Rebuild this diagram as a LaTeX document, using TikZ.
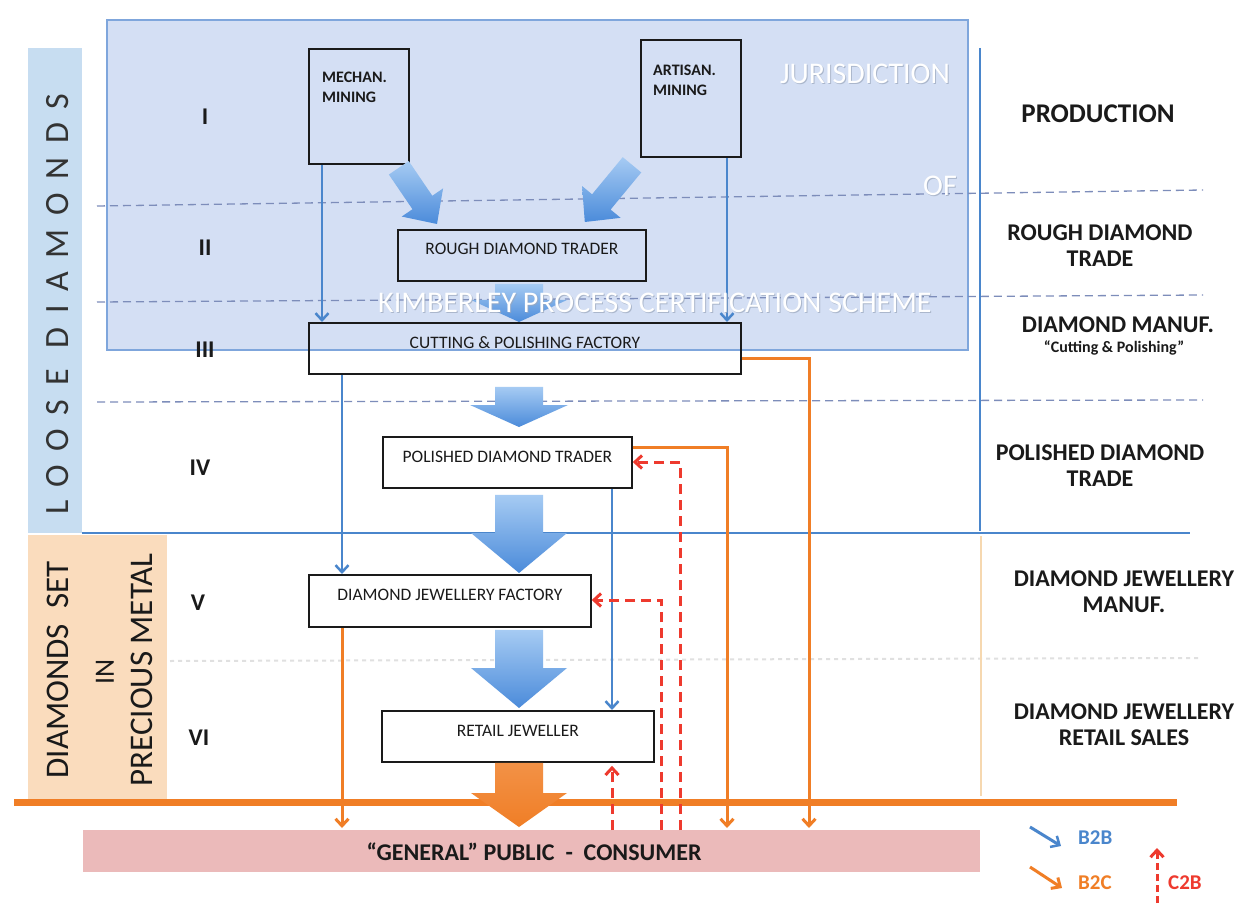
\documentclass[tikz,border=0pt]{standalone}
\usepackage{fontspec}
\setmainfont{Carlito}
\usetikzlibrary{arrows.meta,calc}
\definecolor{kpblue}{HTML}{D4DFF4}
\definecolor{kpedge}{HTML}{7FA6DC}
\definecolor{looseband}{HTML}{C7DDF1}
\definecolor{setband}{HTML}{FADCBD}
\definecolor{pubpink}{HTML}{EBBABA}
\definecolor{btob}{HTML}{4A86CC}
\definecolor{btoc}{HTML}{F07E26}
\definecolor{ctob}{HTML}{EE3A2E}
\definecolor{dashc}{HTML}{7D8DBA}
\definecolor{ink}{HTML}{1A1A1A}
\definecolor{arrlight}{HTML}{A6CBF3}
\definecolor{arrdark}{HTML}{4B8BDA}
\definecolor{orfaint}{HTML}{F6D8B0}
\definecolor{wmshadow}{HTML}{9AA7BC}

\newcommand{\fatarrow}[6]{%
  \coordinate (fabase) at ($(#2)!#5!(#1)$);
  \path[#6] ($(#1)!#3!90:(#2)$) -- ($(fabase)!#3!90:(#2)$) -- ($(fabase)!#4!90:(#2)$)
    -- (#2) -- ($(fabase)!#4!-90:(#2)$) -- ($(fabase)!#3!-90:(#2)$) -- ($(#1)!#3!-90:(#2)$) -- cycle;
}

\tikzset{
  stagebox/.style={draw=ink, line width=1.8pt, inner sep=0pt, anchor=north west},
  boxtext/.style={font=\fontsize{17.5}{20}\selectfont, text=ink, anchor=base, inner sep=0pt},
  minetext/.style={font=\bfseries\fontsize{16}{20}\selectfont, text=ink, anchor=north west, align=left, inner sep=0pt},
  roman/.style={font=\bfseries\fontsize{24}{26}\selectfont, text=ink, inner sep=0pt},
  stagelabel/.style={font=\bfseries\fontsize{24}{26}\selectfont, text=ink, align=center, inner sep=0pt},
  b2b/.style={draw=btob, line width=2.5pt, -{Straight Barb[length=7pt,width=13pt,line width=2.5pt]}},
  b2c/.style={draw=btoc, line width=3pt, -{Straight Barb[length=7pt,width=13pt,line width=3pt]}},
  c2b/.style={draw=ctob, line width=3pt, dash pattern=on 10pt off 6pt, -{Straight Barb[length=7pt,width=13pt,line width=3pt]}},
  stagedash/.style={draw=dashc, line width=1.3pt, dash pattern=on 8pt off 5pt},
  faintdot/.style={draw=black!12, line width=2pt, dash pattern=on 4pt off 4pt},
  bluefat/.style={top color=arrlight, bottom color=arrdark},
  orangefat/.style={top color=btoc!85!white, bottom color=btoc},
  wm/.style={font=\fontsize{30}{30}\selectfont, text=white, inner sep=0pt},
  wms/.style={font=\fontsize{30}{30}\selectfont, text=wmshadow, opacity=0.7, inner sep=0pt},
  legendtext/.style={font=\bfseries\fontsize{21}{22}\selectfont, anchor=west, inner sep=0pt}
}

\begin{document}
\begin{tikzpicture}[x=1pt,y=-1pt]
\useasboundingbox (0,0) rectangle (1242,909);
\fill[white] (0,0) rectangle (1242,909);

% bands and regions
\fill[looseband] (28,48) rectangle (82,533);
\fill[setband] (28,535) rectangle (167,800);
\draw[kpedge, fill=kpblue, line width=1.3pt] (107,20) rectangle (968,350);

% stage separators
\draw[stagedash] (97,206) -- (1203,190);
\draw[stagedash] (97,302) -- (1203,295);
\draw[stagedash] (97,402) -- (1203,400);
\draw[faintdot] (170,661) -- (1200,658);
\draw[btob, line width=1.5pt] (82,533) -- (1190,533);
\draw[btob, line width=2.5pt] (980,48) -- (980,531);
\draw[orfaint, line width=1.8pt] (981,536) -- (981,796);

% public band
\node[fill=pubpink, minimum width=897pt, minimum height=42pt, anchor=north west, inner sep=0pt] (pub) at (83,830) {};
\node[font=\bfseries\fontsize{24}{26}\selectfont, text=ink, inner sep=0pt] (pubT) at (534,852) {“GENERAL” PUBLIC\ \ -\ \ CONSUMER};

% side band texts
\node[rotate=90, font=\fontsize{34}{36}\selectfont\addfontfeature{LetterSpace=40}, text=black!80, inner sep=0pt] (loose) at (58,304) {LOOSE DIAMONDS};
\node[rotate=90, font=\fontsize{33}{36}\selectfont, text=ink, inner sep=0pt] (dset) at (58,670) {DIAMONDS\ \ SET};
\node[rotate=90, font=\fontsize{28}{30}\selectfont, text=ink, inner sep=0pt] (din) at (105,672) {IN};
\node[rotate=90, font=\fontsize{33}{36}\selectfont, text=ink, inner sep=0pt] (dmet) at (142,670) {PRECIOUS METAL};

% boxes
\node[stagebox, minimum width=100pt, minimum height=115pt] (mech) at (308,48) {};
\node[stagebox, minimum width=100pt, minimum height=117pt] (art) at (640,39) {};
\node[stagebox, minimum width=248pt, minimum height=51pt] (rough) at (397,229) {};
\node[stagebox, minimum width=432pt, minimum height=51pt] (cut) at (308,322) {};
\node[stagebox, fill=white, minimum width=249pt, minimum height=51pt] (pol) at (382,436) {};
\node[stagebox, fill=white, minimum width=282pt, minimum height=52pt] (djf) at (308,574) {};
\node[stagebox, fill=white, minimum width=272pt, minimum height=51pt] (ret) at (381,710) {};

\node[minetext] (mechT) at ($(mech.north west)+(14,24)$) {MECHAN.\\MINING};
\node[minetext] (artT) at ($(art.north west)+(13,26)$) {ARTISAN.\\MINING};
\node[boxtext] (roughT) at ($(rough.north)+(0,26)$) {ROUGH DIAMOND TRADER};
\node[boxtext] (cutT) at ($(cut.north)+(0,26)$) {CUTTING \& POLISHING FACTORY};
\node[boxtext] (polT) at ($(pol.north)+(0,26)$) {POLISHED DIAMOND TRADER};
\node[boxtext] (djfT) at ($(djf.north)+(0,26)$) {DIAMOND JEWELLERY FACTORY};
\node[boxtext] (retT) at ($(ret.north)+(0,26)$) {RETAIL JEWELLER};

% column coordinates
\coordinate (ax) at (519,0);
\coordinate (xa) at (322,0);
\coordinate (xb) at (727,0);
\coordinate (xc) at (342,0);
\coordinate (xd) at (612,0);
\coordinate (xe) at (809,0);
\coordinate (xf) at (727,0);
\coordinate (xg) at (680,0);
\coordinate (xh) at (661,0);

% fat arrows
\coordinate (d1s) at ($(mech.south east)+(-11,3)$);
\coordinate (d1e) at ($(rough.north west)+(40,-5)$);
\fatarrow{d1s}{d1e}{12pt}{25pt}{26pt}{bluefat}
\coordinate (d2s) at ($(art.south west)+(-8,7)$);
\coordinate (d2e) at ($(rough.north east)+(-62,-7)$);
\fatarrow{d2s}{d2e}{12pt}{25pt}{26pt}{bluefat}
\coordinate (v1s) at ($(ax |- rough.south)+(0,2)$);
\coordinate (v1e) at ($(ax |- cut.north)+(0,0)$);
\fatarrow{v1s}{v1e}{24pt}{48pt}{22pt}{bluefat}
\coordinate (v2s) at ($(ax |- cut.south)+(0,12)$);
\coordinate (v2e) at ($(ax |- pol.north)+(0,-9)$);
\fatarrow{v2s}{v2e}{24pt}{49pt}{22pt}{bluefat}
\coordinate (v3s) at ($(ax |- pol.south)+(0,6)$);
\coordinate (v3e) at ($(ax |- djf.north)+(0,-1)$);
\fatarrow{v3s}{v3e}{24pt}{48pt}{40pt}{bluefat}
\coordinate (v4s) at ($(ax |- djf.south)+(0,2)$);
\coordinate (v4e) at ($(ax |- ret.north)+(0,-2)$);
\fatarrow{v4s}{v4e}{24pt}{48pt}{40pt}{bluefat}

% consumer line
\draw[btoc, line width=7pt] (14,802) -- (1177,802);
\coordinate (v5s) at ($(ax |- ret.south)+(0,0)$);
\coordinate (v5e) at ($(ax |- pub.north)+(0,-3)$);
\fatarrow{v5s}{v5e}{24pt}{48pt}{34pt}{orangefat}

% B2B connectors
\draw[b2b] (xa |- mech.south) -- (xa |- cut.north);
\draw[b2b] (xb |- art.south) -- (xb |- cut.north);
\draw[b2b] (xc |- cut.south) -- (xc |- djf.north);
\draw[b2b] (xd |- pol.south) -- (xd |- ret.north);

% B2C connectors
\draw[b2c] ($(cut.north east)+(0,36)$) -| ($(xe |- pub.north)+(0,-2)$);
\draw[b2c] ($(pol.north east)+(0,11)$) -| ($(xf |- pub.north)+(0,-2)$);
\draw[b2c] (xc |- djf.south) -- ($(xc |- pub.north)+(0,-2)$);

% C2B connectors
\draw[c2b] (xg |- pub.north) |- ($(pol.north east)+(0,26)$);
\draw[c2b] (xh |- pub.north) |- ($(djf.north east)+(0,26)$);
\draw[c2b] (xd |- pub.north) -- ($(xd |- ret.south)+(0,3)$);

% roman numerals
\node[roman] (r1) at (205,117) {I};
\node[roman] (r2) at (205,248) {II};
\node[roman] (r3) at (205,350) {III};
\node[roman] (r4) at (200,468) {IV};
\node[roman] (r5) at (198,603) {V};
\node[roman] (r6) at (199,738) {VI};

% stage labels
\node[stagelabel, font=\bfseries\fontsize{27}{28}\selectfont] (lab1) at (1098,114) {PRODUCTION};
\node[stagelabel] (lab2) at (1100,245.5) {ROUGH DIAMOND\\TRADE};
\node[stagelabel] (lab3) at (1118,325) {DIAMOND MANUF.};
\node[stagelabel, font=\bfseries\fontsize{16}{18}\selectfont] (lab3s) at (1114,348) {“Cutting \& Polishing”};
\node[stagelabel] (lab4) at (1100,466) {POLISHED DIAMOND\\TRADE};
\node[stagelabel] (lab5) at (1124,592) {DIAMOND JEWELLERY\\MANUF.};
\node[stagelabel] (lab6) at (1124,725) {DIAMOND JEWELLERY\\RETAIL SALES};

% legend
\coordinate (lg1a) at (1030,827);
\coordinate (lg1b) at (1061,846);
\draw[b2b, line width=3pt] (lg1a) -- (lg1b);
\node[legendtext, text=btob] (lgB2B) at (1078,838) {B2B};
\coordinate (lg2a) at (1030,867);
\coordinate (lg2b) at (1062,888);
\draw[b2c, line width=3pt] (lg2a) -- (lg2b);
\node[legendtext, text=btoc] (lgB2C) at (1078,883) {B2C};
\coordinate (lg3a) at (1157,903);
\coordinate (lg3b) at (1157,848);
\draw[c2b, dash pattern=on 7pt off 4pt] (lg3a) -- (lg3b);
\node[legendtext, text=ctob] (lgC2B) at (1168,883) {C2B};

% watermark texts
\node[wms] (wm1s) at (866,75) {JURISDICTION};
\node[wm] (wm1) at (865,74) {JURISDICTION};
\node[wms] (wm2s) at (941,187) {OF};
\node[wm] (wm2) at (940,186) {OF};
\node[wms] (wm3s) at (656,304) {KIMBERLEY PROCESS CERTIFICATION SCHEME};
\node[wm] (wm3) at (655,303) {KIMBERLEY PROCESS CERTIFICATION SCHEME};
\end{tikzpicture}
\end{document}
